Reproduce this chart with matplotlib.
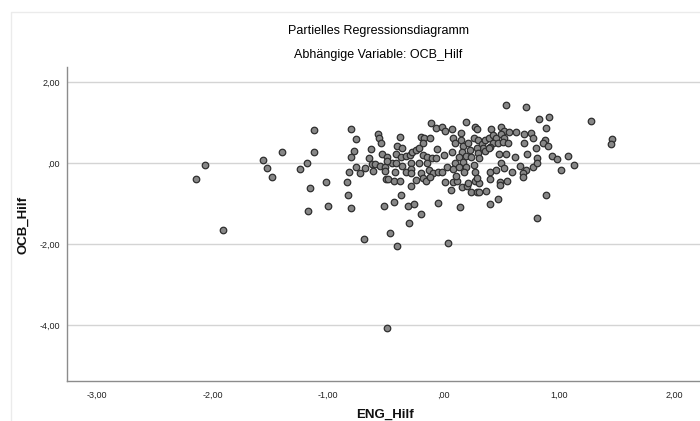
import numpy as np
import matplotlib
matplotlib.use('Agg')
import matplotlib.pyplot as plt
from matplotlib.patches import Rectangle

# Partielles Regressionsdiagramm (SPSS)
eng_hilf = [
    -2.07, -2.14, -1.91, -1.56, -1.53, -1.49, -1.40, -1.12, -1.12, -1.18,
    -1.24, -1.16, -1.02, -1.00, -1.17,
    -0.80, -0.76, -0.78, -0.80, -0.76, -0.82, -0.68, -0.65, -0.63, -0.57,
    -0.56, -0.54, -0.53, -0.49, -0.62, -0.59, -0.55, -0.51, -0.45, -0.41,
    -0.36, -0.49, -0.41, -0.40, -0.38, -0.36, -0.37, -0.33, -0.29, -0.27,
    -0.24, -0.21, -0.20, -0.17, -0.18, -0.12, -0.11, -0.07, -0.06, -0.18,
    -0.14, -0.10, -0.07, -0.14, -0.21, -0.28, -0.72, -0.61, -0.51, -0.42,
    -0.33, -0.28, -0.28, -0.20, -0.13, -0.09, -0.05,
    -0.84, -0.83, -0.80, -0.50, -0.48, -0.43, -0.38, -0.24, -0.28, -0.18,
    -0.15, -0.12, -0.37, -0.43, -0.52, -0.31, -0.26, -0.20, -0.30, -0.46,
    -0.69, -0.40, -0.05,
    0.54, 0.71, 0.83, 0.19, -0.01, 0.01, 0.07, 0.15, 0.27, 0.29,
    0.41, 0.50, 0.52, 0.57, 0.63, 0.70, 0.76, 0.77, 0.08, 0.10,
    0.15, 0.17, 0.21, 0.26, 0.30, 0.33, 0.36, 0.39, 0.43, 0.45,
    0.50, 0.52, 0.43, 0.47, 0.51, 0.56, 0.40, 0.34, 0.29, 0.23,
    0.16, 0.30, 0.36, 0.39, 0.70, 0.80, 0.07, 0.00, 0.19, 0.13,
    0.24, 0.31, 0.48, 0.54, 0.62, 0.72, 0.81, 0.10, 0.17, 0.26,
    0.03, 0.08, 0.13, 0.19, 0.27, 0.40, 0.45, 0.50, 0.52, 0.66,
    0.71, 0.77, 0.81, -0.01, 0.18, 0.59, 0.69,
    0.01, 0.08, 0.12, 0.11, 0.06, 0.16, 0.20, 0.21, 0.24, 0.29,
    0.31, 0.27, 0.31, 0.29, 0.37, 0.40, 0.49, 0.49, 0.55, 0.69,
    0.14, 0.40, 0.47, 0.81, 0.04,
    0.91, 0.89, 1.28, 0.88, 0.86, 0.90, 1.46, 1.45, 0.94, 0.98,
    1.08, 1.13, 1.02, 0.89,
    -0.49,
]
ocb_hilf = [
    -0.03, -0.39, -1.65, 0.08, -0.11, -0.33, 0.28, 0.83, 0.28, 0.01,
    -0.14, -0.61, -0.46, -1.06, -1.19,
    0.85, 0.61, 0.30, 0.15, -0.08, -0.21, -0.11, 0.12, 0.36, 0.72,
    0.62, 0.50, 0.24, 0.16, -0.02, -0.02, -0.07, -0.10, 0.01, 0.00,
    -0.06, 0.06, 0.22, 0.44, 0.64, 0.37, 0.16, 0.18, 0.21, 0.27,
    0.33, 0.37, 0.66, 0.62, 0.51, 0.62, 1.00, 0.87, 0.35, 0.21,
    0.16, 0.14, 0.12, 0.00, 0.00, 0.00, -0.25, -0.19, -0.19, -0.21,
    -0.21, -0.14, -0.25, -0.25, -0.17, -0.25, -0.21,
    -0.47, -0.79, -1.10, -0.39, -0.39, -0.43, -0.43, -0.41, -0.56, -0.36,
    -0.44, -0.33, -0.79, -0.95, -1.06, -1.06, -1.01, -1.26, -1.47, -1.72,
    -1.88, -2.05, -0.99,
    1.44, 1.39, 1.09, 1.03, 0.89, 0.80, 0.85, 0.74, 0.91, 0.85,
    0.84, 0.91, 0.80, 0.78, 0.78, 0.72, 0.74, 0.63, 0.62, 0.50,
    0.58, 0.44, 0.50, 0.62, 0.58, 0.47, 0.58, 0.62, 0.70, 0.62,
    0.72, 0.63, 0.51, 0.50, 0.52, 0.51, 0.41, 0.39, 0.37, 0.33,
    0.29, 0.25, 0.30, 0.37, 0.50, 0.39, 0.27, 0.21, 0.19, 0.16,
    0.16, 0.12, 0.23, 0.22, 0.16, 0.22, 0.14, 0.00, 0.04, -0.04,
    -0.08, -0.14, -0.08, -0.08, -0.21, -0.21, -0.17, 0.00, -0.11, -0.06,
    -0.17, -0.08, 0.00, -0.21, -0.22, -0.21, -0.25,
    -0.46, -0.46, -0.44, -0.31, -0.67, -0.59, -0.56, -0.50, -0.71, -0.71,
    -0.70, -0.44, -0.50, -0.37, -0.68, -0.38, -0.46, -0.54, -0.44, -0.33,
    -1.07, -1.01, -0.89, -1.35, -1.97,
    1.15, 0.87, 1.05, 0.57, 0.51, 0.43, 0.60, 0.48, 0.18, 0.11,
    0.19, -0.04, -0.17, -0.78,
    -4.08,
]

x_ticks = [-3, -2, -1, 0, 1, 2]
x_tick_labels = ['-3,00', '-2,00', '-1,00', ',00', '1,00', '2,00']
y_ticks = [-4, -2, 0, 2]
y_tick_labels = ['-4,00', '-2,00', ',00', '2,00']

plt.rcParams['font.family'] = ['Liberation Sans', 'DejaVu Sans']

fig = plt.figure(figsize=(7.0, 4.21), dpi=100)
fig.patch.set_facecolor('white')

# heller Rahmen um das Diagramm (wie im SPSS-Viewer)
fig.patches.append(Rectangle((11 / 700, -0.1), 1.2, (421 - 12) / 421 + 0.1,
                             transform=fig.transFigure, fill=False,
                             edgecolor='#ebebeb', linewidth=1))

ax = fig.add_axes([67 / 700, (421 - 380.7) / 421, 1 - 67 / 700, (380.7 - 67.3) / 421])
ax.scatter(eng_hilf, ocb_hilf, s=22, c='#878787', edgecolors='#2e2e2e',
           linewidths=0.9, zorder=3)

ax.set_xlim(-3.261, 2.22)
ax.set_ylim(-5.381, 2.376)
ax.set_xticks(x_ticks)
ax.set_xticklabels(x_tick_labels)
ax.set_yticks(y_ticks)
ax.set_yticklabels(y_tick_labels)
ax.tick_params(length=0, labelsize=6.5, colors='#222222')
ax.tick_params(axis='x', pad=7)
ax.tick_params(axis='y', pad=5)
ax.yaxis.grid(True, color='#d4d4d4', linewidth=1)
ax.set_axisbelow(True)

for side in ['top', 'right']:
    ax.spines[side].set_visible(False)
for side in ['left', 'bottom']:
    ax.spines[side].set_color('#8c8c8c')
    ax.spines[side].set_linewidth(1)

fig.text(378 / 700, 1 - 31 / 421, 'Partielles Regressionsdiagramm',
         ha='center', va='center', fontsize=9, color='#000000')
fig.text(378 / 700, 1 - 55 / 421, 'Abhängige Variable: OCB_Hilf',
         ha='center', va='center', fontsize=9, color='#000000')
fig.text(385 / 700, 3 / 421, 'ENG_Hilf', ha='center', va='baseline',
         fontsize=9.5, fontweight='bold', color='#111111')
fig.text(23 / 700, 1 - 225 / 421, 'OCB_Hilf', ha='center', va='center',
         rotation=90, fontsize=9.5, fontweight='bold', color='#111111')

plt.savefig('out.png', dpi=100)
